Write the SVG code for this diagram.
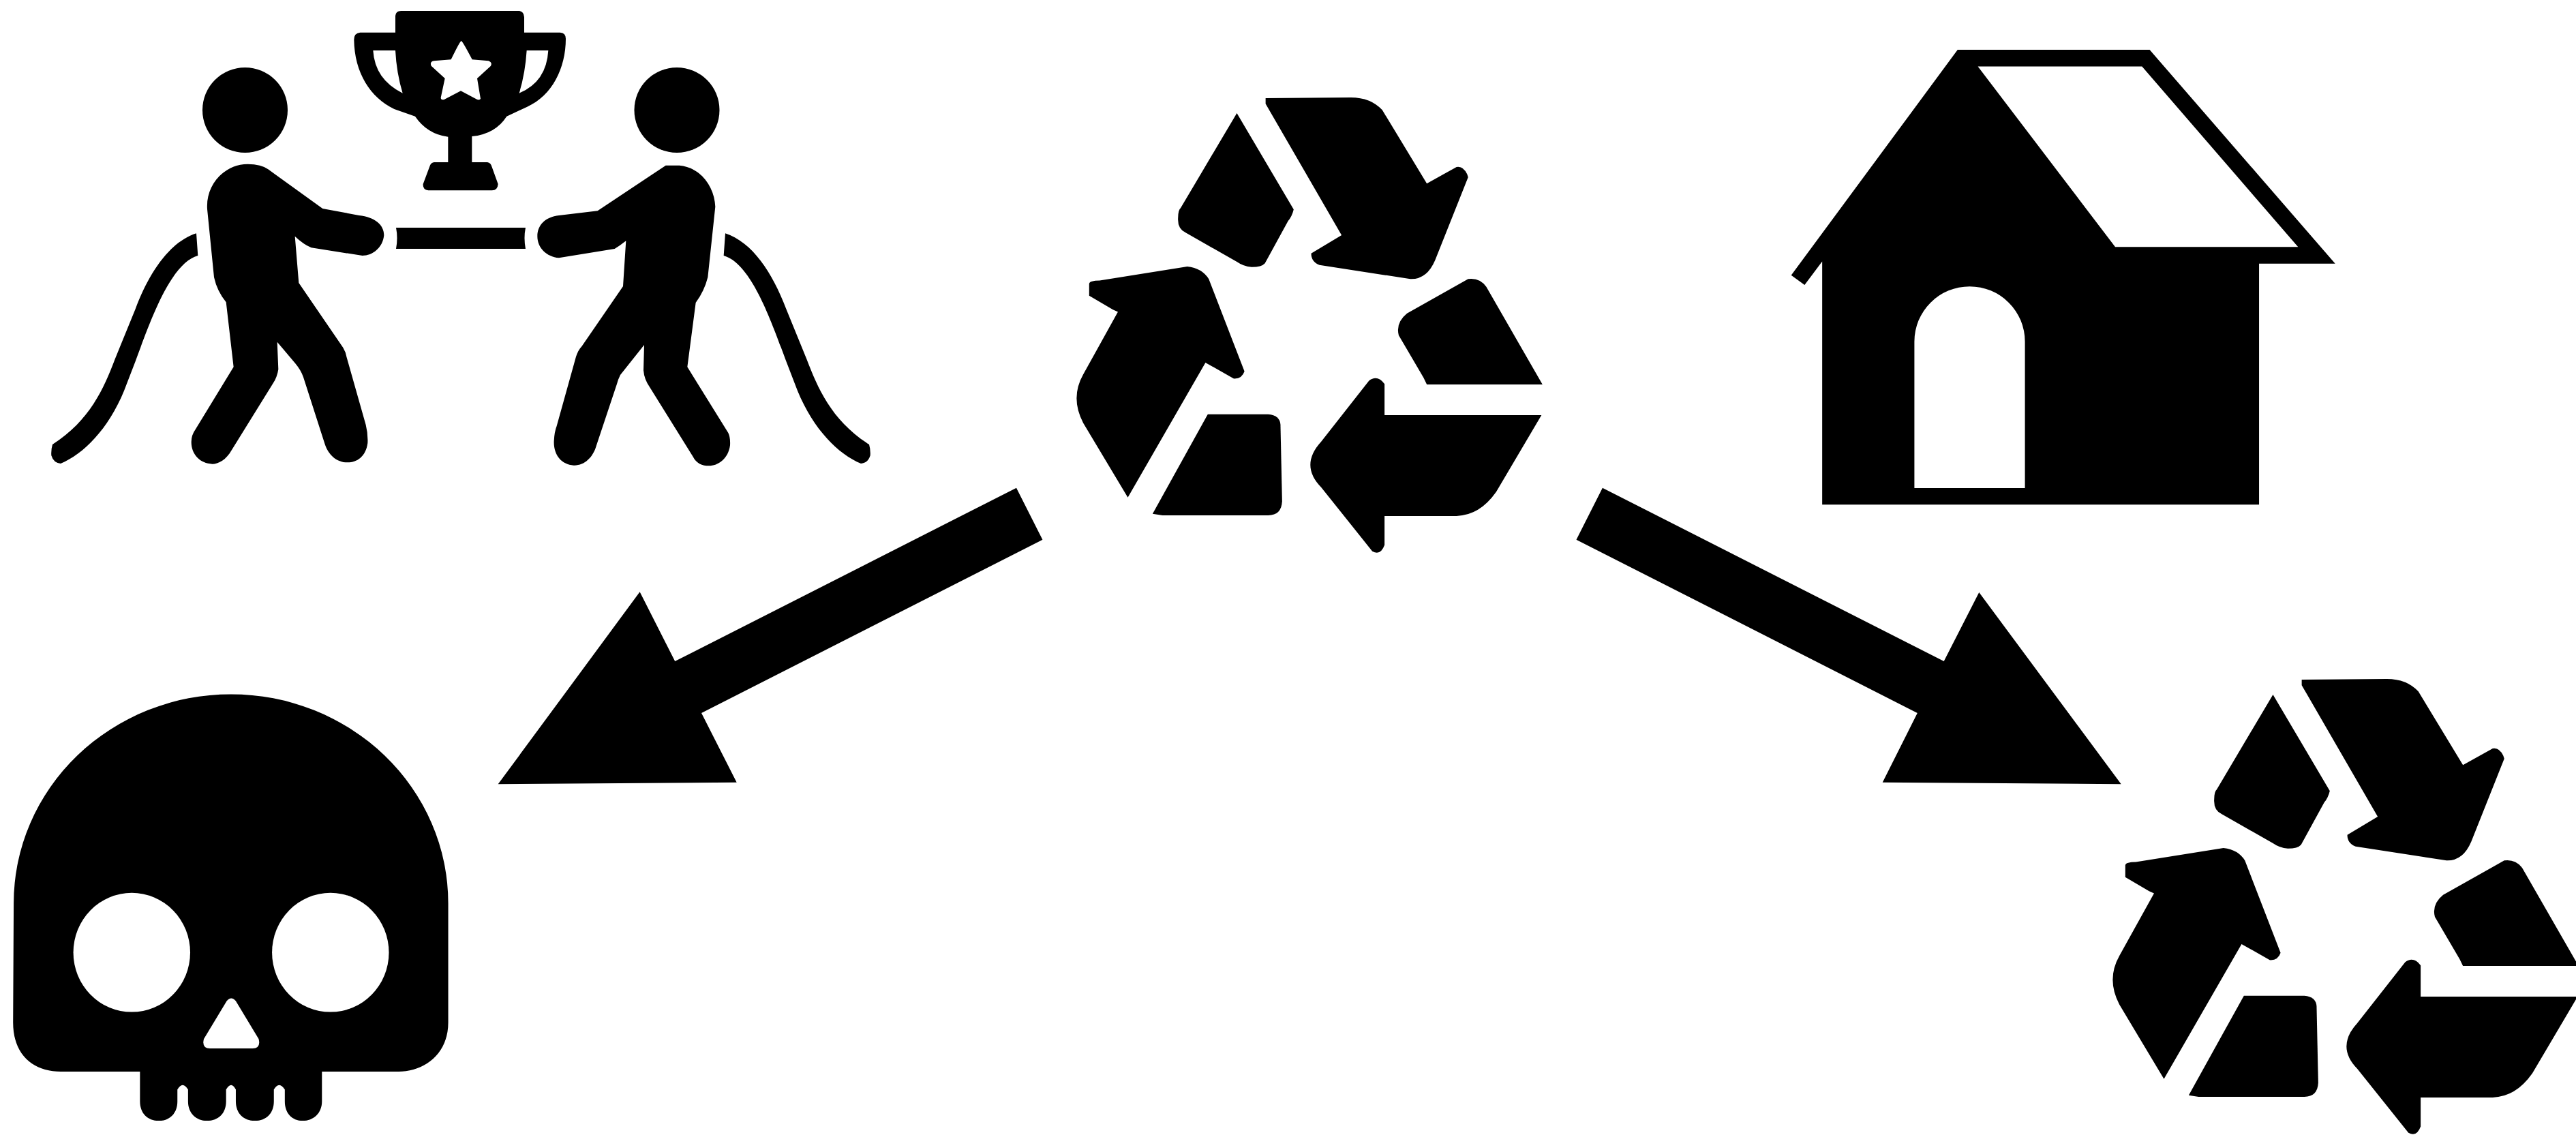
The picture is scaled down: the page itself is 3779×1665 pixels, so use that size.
<svg xmlns="http://www.w3.org/2000/svg" width="3779" height="1665" viewBox="0 0 3779 1665">
<style>
.k{fill:#000}
.h{fill:#fff}
.e{fill:#000;fill-rule:evenodd}
</style>
<defs>
<g id="recycle-shape">
<path class="k" d="M525 100 L697 408 Q692 430 680 445 L610 580 Q600 592 570 592 Q545 590 525 575 L370 482 Q345 470 347 435 Q347 410 355 403 Z"/>
<path class="k" d="M612 52 L870 50 Q930 50 965 90 L1100 325 L1190 272 Q1210 268 1222 295 L1225 305 L1125 570 Q1100 632 1050 630 L775 585 Q750 575 750 548 L842 490 L612 70 Z"/>
<path class="k" d="M78 645 Q80 635 110 635 L375 590 Q420 595 440 630 L548 925 Q540 950 515 948 L430 897 L195 1328 L60 1090 Q20 1010 60 935 L165 735 L150 728 L78 683 Z"/>
<path class="k" d="M437 1062 L620 1062 Q655 1065 657 1095 L662 1340 Q660 1385 620 1385 L300 1385 L270 1380 Z"/>
<path class="k" d="M1100 967 L1450 967 L1280 655 Q1260 625 1225 630 L1040 740 Q1005 770 1015 810 L1090 945 Z"/>
<path class="k" d="M972 1065 L1447 1065 L1310 1310 Q1260 1385 1190 1387 L972 1387 L972 1480 Q960 1515 935 1500 L780 1295 Q715 1225 780 1150 L925 955 Q950 935 972 965 Z"/>
</g>
<path id="rope-shape" d="M882 367 C1000 405 1090 540 1150 700 L1240 920 C1290 1050 1350 1190 1515 1296 Q1522 1320 1520 1345 Q1510 1378 1479 1380 C1380 1340 1270 1230 1200 1060 L1150 930 C1090 770 1000 500 875 465 Z"/>
</defs>
<rect width="3779" height="1665" fill="#fff"/>
<g id="tug-of-war">
<ellipse class="k" cx="359.5" cy="161.5" rx="62.5" ry="62.5"/>
<ellipse class="k" cx="993" cy="161.5" rx="62.5" ry="62.5"/>
<path class="k" transform="translate(260 220) scale(0.33333)" d="M310 62 Q370 62 400 85 L640 258 L800 288 C870 295 910 330 910 375 C905 430 860 465 815 465 L590 430 Q555 415 518 380 L535 585 L730 870 Q742 890 745 910 L830 1210 Q840 1250 838 1290 C830 1350 790 1375 750 1375 C700 1375 665 1340 650 1295 L555 1000 Q545 970 520 940 L440 845 L445 965 Q440 1000 420 1030 L240 1320 C215 1365 180 1382 155 1382 C100 1380 62 1340 62 1285 Q62 1255 80 1230 L248 955 L215 670 Q175 620 162 560 L132 260 C125 150 210 62 310 62 Z"/>
<path class="k" transform="translate(770 220) scale(0.33333)" d="M620 68 L680 68 C770 75 835 160 838 250 L805 560 Q790 620 752 672 L715 955 L895 1245 Q905 1265 903 1300 C895 1360 850 1390 810 1390 C780 1390 755 1380 740 1350 L550 1045 Q525 1010 522 970 L525 858 L420 990 Q410 1010 405 1030 L315 1300 C300 1355 260 1390 215 1388 C160 1385 125 1340 128 1280 Q130 1240 140 1215 L225 910 Q235 880 250 865 L432 600 L445 400 Q420 420 395 435 L150 475 C95 470 55 430 55 380 C55 330 90 295 150 288 L320 268 Z"/>
<use href="#rope-shape" class="k" transform="translate(770 220) scale(0.33333)"/>
<use href="#rope-shape" class="k" transform="translate(582 220) scale(-0.33333 0.33333)"/>
<path class="k" d="M581 334 L771 334 Q768 349 771 365 L581 365 Q584 349 581 334 Z"/>
<path class="e" transform="translate(500 0) scale(0.33333)" d="M240 70 Q242 48 265 48 L785 48 Q805 50 807 75 L807 143 L965 143 Q990 145 990 170 C990 300 930 420 820 470 L730 512 Q680 590 577 600 L577 714 L645 714 Q660 716 665 735 L692 810 Q690 838 665 838 L385 838 Q360 835 362 810 L390 735 Q395 716 410 714 L472 714 L472 602 Q380 590 327 512 L235 480 C130 430 60 320 58 175 Q58 145 85 143 L240 143 Z M142 222 L240 222 Q245 320 272 410 Q150 350 142 222 Z M913 222 L818 222 Q812 320 785 410 Q905 360 913 222 Z M530 180 Q535 180 578 262 L650 268 Q668 275 660 290 L600 345 L615 435 Q610 442 600 438 L528 400 L455 438 Q440 442 440 430 L458 345 L398 290 Q390 272 410 268 L485 262 Q525 180 530 180 Z"/>
</g>
<g id="recycle-center" transform="translate(1560 120) scale(0.4847 0.4592)"><use href="#recycle-shape"/></g>
<g id="house" transform="translate(2580 40) scale(0.5612 0.4592)">
<path class="e" d="M520 72 L1022 72 L1507 755 L1308 755 L1308 1525 L166 1525 L166 748 L120 823 L85 792 Z M573 125 L1002 125 L1410 702 L932 702 Z M407 1472 L407 1004 A144.5 176 0 0 1 696 1004 L696 1472 Z"/>
</g>
<g id="skull" transform="translate(0 980) scale(0.4464 0.4369)">
<path class="k" d="M45 790 A714 702 0 0 1 1473 790 L1473 1190 C1473 1300 1390 1355 1310 1355 L1058 1355 L1058 1455 C1058 1495 1030 1520 995 1520 C960 1520 936 1495 936 1455 L936 1415 Q917 1385 900 1415 L900 1455 C900 1495 875 1520 838 1520 C800 1520 775 1495 775 1455 L775 1415 Q760 1385 743 1415 L743 1455 C743 1495 718 1520 680 1520 C645 1520 618 1495 618 1455 L618 1415 Q600 1385 583 1415 L583 1455 C583 1495 558 1520 522 1520 C485 1520 460 1495 460 1455 L460 1355 L200 1355 C110 1355 43 1300 43 1190 Z"/>
<ellipse class="h" cx="433" cy="955" rx="192" ry="200"/>
<ellipse class="h" cx="1086" cy="955" rx="192" ry="200"/>
<path class="h" d="M745 1118 Q760 1100 775 1118 L850 1245 Q858 1277 830 1277 L690 1277 Q662 1277 670 1245 Z"/>
</g>
<g id="recycle-result" transform="translate(3080 973) scale(0.4847 0.4592)"><use href="#recycle-shape"/></g>
<g id="connectors">
<polygon class="k" points="1491,715.7 1529.4,791.7 1029,1046 1080.7,1147.7 730.7,1150.3 938.6,868.3 990.2,970"/>
<polygon class="k" points="2350.9,715.7 2312.5,791.7 2812.8,1046 2761.7,1147.7 3111.7,1150.3 2903.3,869 2851.7,970"/>
</g>
</svg>
